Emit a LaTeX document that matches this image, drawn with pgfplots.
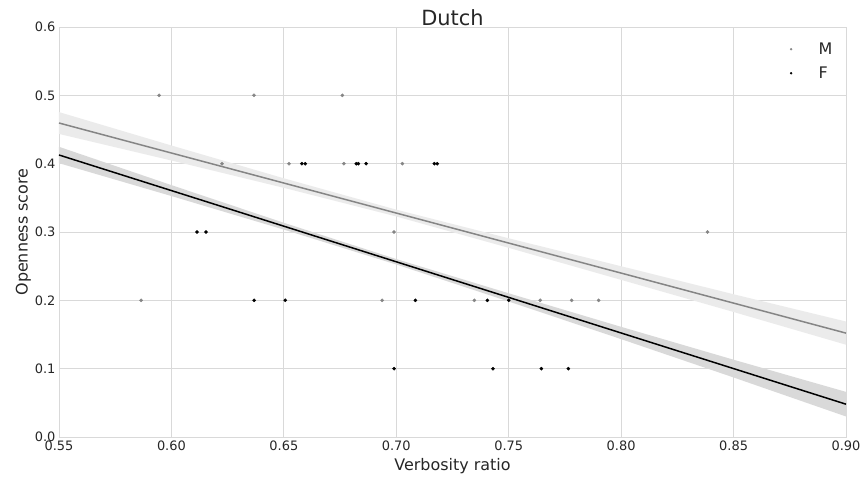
\documentclass[border=0pt]{standalone}
\usepackage{pgfplots}
\pgfplotsset{compat=1.18}
\usepackage{fontspec}
\setmainfont{DejaVu Sans}
\definecolor{mgray}{HTML}{858585}
\definecolor{gridc}{HTML}{D9D9D9}
\definecolor{txt}{HTML}{262626}
\begin{document}
\begin{tikzpicture}[x=1bp,y=1bp]
\path[use as bounding box] (-59,-44) rectangle (805,410+27);
\begin{axis}[
  at={(0,0)}, anchor=south west,
  scale only axis, width=787bp, height=410bp,
  xmin=0.55, xmax=0.90, ymin=0, ymax=0.6,
  xtick={0.55,0.60,...,0.90}, ytick={0,0.1,...,0.6},
  xticklabel style={/pgf/number format/.cd,fixed,fixed zerofill,precision=2},
  yticklabel style={/pgf/number format/.cd,fixed,fixed zerofill,precision=1},
  /pgf/number format/assume math mode=true,
  ticklabel style={font=\fontsize{13}{15}\selectfont, text=txt},
  major tick length=0pt,
  grid=major, grid style={gridc, line width=0.8pt},
  axis line style={gridc, line width=0.8pt},
  xlabel={Verbosity ratio}, ylabel={Openness score},
  label style={font=\fontsize{16}{18}\selectfont, text=txt},
  xlabel style={yshift=-1pt}, ylabel style={yshift=-3pt},
  title={Dutch}, title style={font=\fontsize{21}{24}\selectfont, text=txt, yshift=-8pt},
  legend style={draw=none, fill=none, at={(0.925,0.972)}, anchor=north west, font=\fontsize{16}{18}\selectfont, text=txt, row sep=7pt},
  legend cell align=left,
  legend image code/.code={\draw[mark size=1pt] plot coordinates {(0cm,0cm)}; \path[draw=none,fill=none] (0cm,0cm) -- (0.9cm,0cm);},
  clip=true,
]
% M band
\addplot[draw=none, fill=black!8, forget plot] coordinates {
(0.55,0.4755) (0.60,0.4266) (0.65,0.3786) (0.70,0.3327) (0.75,0.2908) (0.80,0.2499) (0.85,0.2089) (0.90,0.169)
(0.90,0.135) (0.85,0.1829) (0.80,0.2299) (0.75,0.2768) (0.70,0.3227) (0.65,0.3646) (0.60,0.4046) (0.55,0.4435)
} -- cycle;
% F band
\addplot[draw=none, fill=black!15, forget plot] coordinates {
(0.55,0.4247) (0.60,0.3686) (0.65,0.3135) (0.70,0.2604) (0.75,0.2103) (0.80,0.1612) (0.85,0.1131) (0.90,0.066)
(0.90,0.030) (0.85,0.0871) (0.80,0.1432) (0.75,0.1983) (0.70,0.2524) (0.65,0.3035) (0.60,0.3526) (0.55,0.4007)
} -- cycle;
\addplot[mgray, line width=1.5pt, forget plot] coordinates {(0.55,0.4595) (0.90,0.152)};
\addplot[black, line width=1.5pt, forget plot] coordinates {(0.55,0.4127) (0.90,0.048)};
% M points
\addplot[only marks, mark=*, mark size=1.6pt, mgray, mark options={draw=mgray, fill=mgray}] coordinates {
(0.5945,0.5) (0.6367,0.5) (0.676,0.5)
(0.6225,0.4) (0.6523,0.4) (0.6767,0.4) (0.7027,0.4)
(0.699,0.3) (0.8384,0.3)
(0.5865,0.2) (0.6937,0.2) (0.7347,0.2) (0.764,0.2) (0.778,0.2) (0.790,0.2)
};
\addlegendentry{M}
% F points
\addplot[only marks, mark=*, mark size=1.6pt, black, mark options={draw=black, fill=black}] coordinates {
(0.658,0.4) (0.6595,0.4) (0.6822,0.4) (0.6831,0.4) (0.6866,0.4) (0.7169,0.4) (0.7182,0.4)
(0.6114,0.3) (0.6154,0.3)
(0.6368,0.2) (0.6506,0.2) (0.7085,0.2) (0.7405,0.2) (0.750,0.2)
(0.699,0.1) (0.743,0.1) (0.7645,0.1) (0.7765,0.1)
};
\addlegendentry{F}
\end{axis}
\end{tikzpicture}
\end{document}
